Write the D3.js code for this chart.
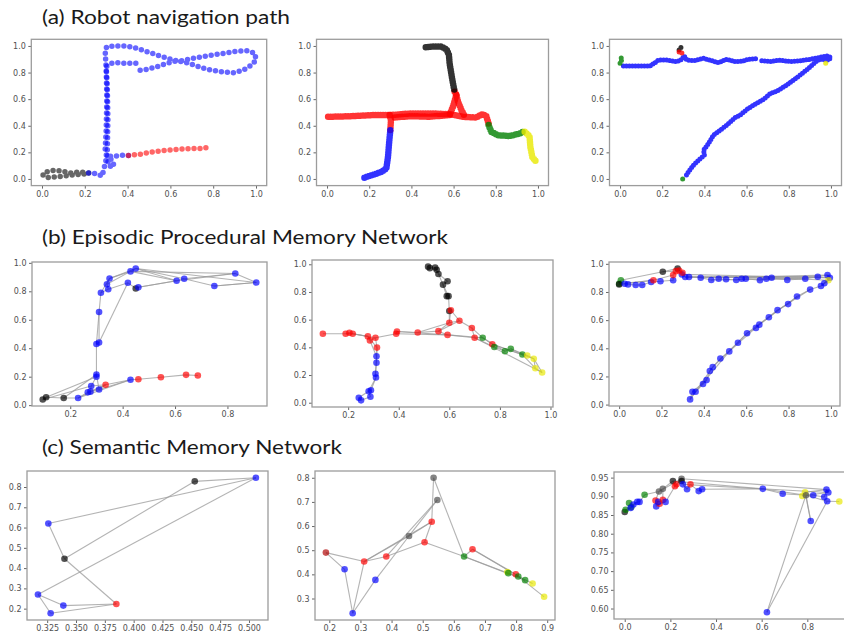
<!DOCTYPE html>
<html>
<head>
<meta charset="utf-8">
<script src="https://cdn.jsdelivr.net/npm/d3@7"></script>
<style>
  body { margin: 0; background: #fff; }
  svg text { font-family: "DejaVu Sans", sans-serif; }
</style>
</head>
<body>
<div id="vis"></div>
<script>
// ---- titles and ticks ----
const titles = ["(a) Robot navigation path", "(b) Episodic Procedural Memory Network", "(c) Semantic Memory Network"];
const ticksUnit = [0, 0.2, 0.4, 0.6, 0.8, 1.0];
const ticksB1x = [0.2, 0.4, 0.6, 0.8];
const ticksB2x = [0.2, 0.4, 0.6, 0.8, 1.0];
const ticksC1x = [0.325, 0.35, 0.375, 0.4, 0.425, 0.45, 0.475, 0.5];
const ticksC1y = [0.2, 0.3, 0.4, 0.5, 0.6, 0.7, 0.8];
const ticksC2x = [0.2, 0.3, 0.4, 0.5, 0.6, 0.7, 0.8, 0.9];
const ticksC2y = [0.3, 0.4, 0.5, 0.6, 0.7, 0.8];
const ticksC3x = [0, 0.2, 0.4, 0.6, 0.8];
const ticksC3y = [0.6, 0.65, 0.7, 0.75, 0.8, 0.85, 0.9, 0.95];

// ---- (a) robot paths, one array per coloured stretch ----
const a1Black = [[0.218,0.045],[0.179,0.053],[0.132,0.045],[0.093,0.06],[0.054,0.065],[0.023,0.053],[0.005,0.04],[0.005,0.028],[0.023,0.01],[0.062,0.015],[0.117,0.025],[0.179,0.035],[0.22,0.042]];
const a1Blue = [[0.218,0.045],[0.233,0.045],[0.264,0.035],[0.28,0.02],[0.288,0.065],[0.295,0.116],[0.303,0.166],[0.295,0.216],[0.3,0.367],[0.303,0.618],[0.3,0.819],[0.295,0.97],[0.303,0.995],[0.35,1.0],[0.397,1.0],[0.443,0.982],[0.49,0.957],[0.552,0.925],[0.614,0.894],[0.645,0.887],[0.708,0.907],[0.77,0.925],[0.832,0.94],[0.894,0.957],[0.956,0.965],[0.995,0.945],[1.0,0.894],[0.98,0.857],[0.941,0.819],[0.894,0.799],[0.832,0.807],[0.77,0.824],[0.723,0.849],[0.677,0.874],[0.63,0.889],[0.583,0.869],[0.537,0.844],[0.49,0.824],[0.44,0.814]];
const a1Blue2 = [[0.404,0.176],[0.381,0.178],[0.334,0.171],[0.31,0.17],[0.334,0.128],[0.334,0.09],[0.31,0.1],[0.305,0.2],[0.308,0.45],[0.305,0.7],[0.3,0.844],[0.319,0.869],[0.35,0.874],[0.397,0.869],[0.446,0.869]];
const a1Red = [[0.404,0.176],[0.459,0.186],[0.521,0.204],[0.583,0.216],[0.645,0.224],[0.708,0.229],[0.754,0.229],[0.767,0.236],[0.75,0.222]];

const a2Black = [[0.468,0.99],[0.502,0.995],[0.542,0.995],[0.566,0.975],[0.578,0.932],[0.581,0.869],[0.589,0.794],[0.597,0.719],[0.605,0.656]];
const a2Red = [[0.605,0.656],[0.613,0.631],[0.621,0.58],[0.637,0.518],[0.652,0.472]];
const a2Red2 = [[0.613,0.631],[0.597,0.543],[0.581,0.48]];
const a2Red3 = [[0.005,0.467],[0.11,0.472],[0.218,0.48],[0.297,0.48],[0.392,0.492],[0.502,0.492],[0.581,0.487],[0.645,0.467],[0.708,0.462],[0.736,0.487],[0.755,0.472],[0.766,0.417],[0.766,0.405]];
const a2Red4 = [[0.297,0.48],[0.303,0.44],[0.3,0.367]];
const a2Red5 = [[0.581,0.48],[0.487,0.468],[0.392,0.472],[0.31,0.46]];
const a2Blue = [[0.3,0.367],[0.294,0.266],[0.289,0.166],[0.281,0.078],[0.257,0.053],[0.226,0.035],[0.194,0.02],[0.174,0.008]];
const a2Green = [[0.766,0.405],[0.779,0.354],[0.81,0.329],[0.866,0.322],[0.913,0.342],[0.929,0.354]];
const a2Yellow = [[0.937,0.354],[0.96,0.322],[0.964,0.241],[0.973,0.166],[0.992,0.128]];

const a3Blue = [[0.016,0.85],[0.079,0.85],[0.142,0.85],[0.166,0.874],[0.182,0.894],[0.222,0.894],[0.269,0.882],[0.293,0.9],[0.304,0.925],[0.316,0.894],[0.348,0.889],[0.396,0.907],[0.435,0.889],[0.467,0.874],[0.506,0.9],[0.546,0.882],[0.585,0.887],[0.609,0.9],[0.649,0.905]];
const a3Blue2 = [[0.672,0.889],[0.712,0.882],[0.759,0.894],[0.807,0.882],[0.854,0.889],[0.902,0.9],[0.949,0.915],[0.981,0.925],[1.0,0.915],[0.989,0.894],[0.949,0.9],[0.934,0.889],[0.894,0.832],[0.854,0.781],[0.823,0.744],[0.791,0.706],[0.744,0.661],[0.712,0.643],[0.68,0.598],[0.633,0.555],[0.601,0.523],[0.57,0.48],[0.546,0.462],[0.506,0.405],[0.475,0.367],[0.443,0.329],[0.419,0.266],[0.396,0.216],[0.4,0.178],[0.38,0.153],[0.348,0.103],[0.324,0.053],[0.309,0.015]];
const a3Green = [[0.0,0.87],[0.01,0.9],[0.005,0.91]];
const a3Green2 = [[0.297,0.0],[0.309,0.005]];
const a3Black = [[0.28,0.97],[0.29,0.99],[0.285,0.98]];
const a3Red = [[0.28,0.955],[0.295,0.945]];
const a3Yellow = [[0.975,0.87],[0.985,0.88]];

// ---- (b) episodic network: nodes [x, y, colour] and chains of node indices ----
const b1Nodes = [[0.095,0.04,"k"],[0.108,0.055,"k"],[0.175,0.05,"k"],[0.23,0.05,"b"],[0.267,0.09,"b"],[0.277,0.095,"b"],[0.28,0.135,"b"],[0.31,0.11,"b"],[0.30,0.2,"b"],[0.30,0.215,"b"],[0.30,0.43,"b"],[0.31,0.44,"b"],[0.31,0.655,"b"],[0.317,0.79,"b"],[0.34,0.85,"b"],[0.345,0.815,"b"],[0.35,0.89,"b"],[0.43,0.94,"b"],[0.45,0.96,"b"],[0.42,0.86,"b"],[0.45,0.82,"k"],[0.46,0.828,"b"],[0.606,0.874,"b"],[0.635,0.888,"b"],[0.75,0.837,"b"],[0.83,0.925,"b"],[0.91,0.862,"b"],[0.335,0.143,"r"],[0.43,0.178,"b"],[0.46,0.182,"r"],[0.546,0.196,"r"],[0.642,0.213,"r"],[0.687,0.208,"r"]];
const b1Links = [[0,1,2,3,4,5,6,8,9,10,11,12,13,15,14,16,17,18,22,23,25,26,24,23,22,21,20,19,15],[9,7,27,28,29,30,31,32],[1,8],[2,9],[0,6],[3,28],[4,27],[19,11],[16,18],[17,25],[18,26],[14,17],[13,16],[21,22],[22,25],[24,26],[10,12],[5,7],[6,27],[3,27],[7,28],[18,23],[17,22]];

const b2Nodes = [[0.516,0.983,"k"],[0.523,0.972,"k"],[0.544,0.976,"k"],[0.55,0.96,"k"],[0.557,0.93,"k"],[0.593,0.877,"k"],[0.575,0.853,"k"],[0.59,0.77,"k"],[0.597,0.77,"k"],[0.60,0.663,"k"],[0.606,0.668,"r"],[0.60,0.578,"r"],[0.557,0.517,"r"],[0.593,0.49,"r"],[0.475,0.507,"r"],[0.393,0.514,"r"],[0.39,0.498,"r"],[0.308,0.469,"r"],[0.286,0.45,"r"],[0.278,0.479,"r"],[0.218,0.498,"r"],[0.205,0.505,"r"],[0.19,0.498,"r"],[0.10,0.498,"r"],[0.314,0.398,"r"],[0.312,0.336,"b"],[0.312,0.289,"b"],[0.308,0.209,"b"],[0.31,0.182,"b"],[0.29,0.09,"b"],[0.281,0.083,"b"],[0.288,0.043,"b"],[0.251,0.017,"b"],[0.242,0.036,"b"],[0.64,0.592,"r"],[0.689,0.54,"r"],[0.70,0.469,"r"],[0.732,0.469,"g"],[0.77,0.422,"r"],[0.778,0.403,"g"],[0.82,0.372,"g"],[0.843,0.389,"g"],[0.889,0.348,"g"],[0.908,0.341,"y"],[0.934,0.318,"y"],[0.967,0.218,"y"],[0.94,0.249,"y"]];
const b2Links = [[0,1,2,3,4,5,6,7,8,9,10,11,12,14,15,16,17,18,19,20,21,22,23],[17,24,25,26,27,28,29,30,31,32,33,30],[11,34,35,36,37,38,39,40,41,42,43,44,45,46,44],[16,13,36],[12,13],[14,11],[12,34],[10,34],[9,11],[13,37],[36,39],[37,40],[38,42],[41,43],[42,46],[19,24],[18,25],[20,19],[22,20],[24,26],[28,30],[6,8],[4,6],[35,37],[15,13],[36,45],[38,44],[17,20],[25,27]];

const b3Nodes = [[0.0,0.859,"g"],[0.008,0.883,"g"],[0.0,0.854,"k"],[0.206,0.944,"k"],[0.276,0.967,"k"],[0.026,0.859,"b"],[0.042,0.854,"b"],[0.078,0.85,"b"],[0.109,0.85,"b"],[0.151,0.871,"b"],[0.195,0.876,"b"],[0.255,0.883,"b"],[0.296,0.925,"b"],[0.312,0.906,"b"],[0.330,0.906,"b"],[0.385,0.901,"b"],[0.435,0.885,"b"],[0.47,0.894,"b"],[0.505,0.89,"b"],[0.553,0.885,"b"],[0.579,0.894,"b"],[0.598,0.894,"b"],[0.665,0.883,"b"],[0.695,0.894,"b"],[0.72,0.901,"b"],[0.794,0.885,"b"],[0.879,0.894,"b"],[0.938,0.908,"b"],[0.984,0.92,"b"],[0.995,0.901,"b"],[0.162,0.883,"r"],[0.255,0.92,"r"],[0.268,0.948,"r"],[0.283,0.953,"r"],[0.299,0.937,"r"],[0.988,0.883,"y"],[0.969,0.862,"b"],[0.953,0.843,"b"],[0.902,0.817,"b"],[0.84,0.768,"b"],[0.798,0.714,"b"],[0.748,0.671,"b"],[0.707,0.62,"b"],[0.662,0.568,"b"],[0.646,0.545,"b"],[0.604,0.507,"b"],[0.561,0.439,"b"],[0.52,0.378,"b"],[0.478,0.327,"b"],[0.442,0.266,"b"],[0.428,0.239,"b"],[0.413,0.174,"b"],[0.396,0.146,"b"],[0.361,0.091,"b"],[0.346,0.091,"b"],[0.335,0.037,"b"]];
const b3Links = [[1,0,2,5,6,7,8,9,10,11,31,32,33,34,12,13,14,15,16,17,18,19,20,21,22,23,24,25,26,27,28,29,35,36,37,38,39,40,41,42,43,44,45,46,47,48,49,50,51,52,53,54,55],[1,3,4,33],[2,30,31],[3,32],[0,30],[14,27],[15,28],[21,26],[24,35],[13,29],[29,36],[35,37],[53,55],[54,51],[4,12],[13,27],[16,26],[12,29],[55,49],[53,47],[49,45],[47,43],[45,41],[43,39],[41,38]];

// ---- (c) semantic network ----
const c1Nodes = [[0.453,0.828,"k"],[0.506,0.846,"b"],[0.326,0.62,"b"],[0.340,0.446,"k"],[0.317,0.27,"b"],[0.339,0.215,"b"],[0.328,0.177,"b"],[0.385,0.223,"r"]];
const c1Links = [[0,1],[1,2],[0,3],[1,4],[2,3],[3,7],[4,5],[4,6],[6,7],[5,7]];

const c2Nodes = [[0.189,0.49,"dr"],[0.249,0.421,"b"],[0.275,0.239,"b"],[0.312,0.453,"r"],[0.348,0.377,"b"],[0.383,0.474,"r"],[0.456,0.559,"gk"],[0.506,0.533,"r"],[0.529,0.618,"r"],[0.535,0.80,"gk"],[0.547,0.708,"gk"],[0.633,0.474,"g"],[0.66,0.504,"r"],[0.772,0.41,"y"],[0.775,0.405,"g"],[0.799,0.40,"r"],[0.807,0.391,"g"],[0.829,0.376,"g"],[0.853,0.362,"y"],[0.89,0.307,"y"]];
const c2Links = [[0,1],[0,3],[1,2],[2,3],[2,4],[4,6],[3,6],[3,8],[3,5],[5,7],[6,10],[6,8],[7,8],[8,9],[9,11],[7,11],[11,12],[12,15],[11,14],[11,17],[15,19],[16,18],[14,16],[5,10],[12,17],[15,16]];

const c3Nodes = [[0.0,0.858,"k"],[0.004,0.864,"g"],[0.019,0.882,"g"],[0.029,0.871,"g"],[0.026,0.869,"b"],[0.038,0.878,"b"],[0.055,0.885,"b"],[0.065,0.885,"b"],[0.087,0.904,"g"],[0.15,0.913,"gk"],[0.167,0.92,"gk"],[0.135,0.889,"r"],[0.138,0.873,"b"],[0.153,0.88,"r"],[0.147,0.885,"b"],[0.167,0.891,"r"],[0.179,0.885,"b"],[0.211,0.941,"k"],[0.22,0.927,"r"],[0.227,0.932,"r"],[0.249,0.947,"gk"],[0.249,0.941,"k"],[0.255,0.932,"b"],[0.273,0.919,"b"],[0.288,0.932,"r"],[0.324,0.914,"b"],[0.339,0.919,"b"],[0.605,0.92,"b"],[0.692,0.907,"b"],[0.79,0.911,"y"],[0.778,0.901,"y"],[0.794,0.903,"gk"],[0.826,0.903,"b"],[0.815,0.834,"b"],[0.874,0.898,"b"],[0.884,0.918,"b"],[0.892,0.91,"b"],[0.887,0.887,"b"],[0.94,0.886,"y"],[0.623,0.59,"b"]];
const c3Links = [[0,1],[1,3],[0,4],[4,5],[5,6],[6,7],[7,8],[8,9],[9,10],[10,17],[9,20],[3,6],[2,5],[11,12],[11,14],[12,13],[13,16],[14,15],[15,10],[16,18],[11,9],[17,18],[18,19],[19,20],[20,21],[21,22],[22,23],[23,24],[24,25],[25,26],[20,35],[17,27],[27,31],[27,28],[28,31],[26,27],[31,32],[32,34],[34,35],[35,36],[36,31],[31,33],[33,29],[39,31],[39,37],[37,31],[37,38],[30,31],[29,35],[22,36]];

const colors = { k: "#000000", b: "#0000ff", r: "#ff0000", g: "#008000", y: "#e8e800", dr: "#b00000", gk: "#4a4a4a" };

// ---- layout ----
const svg = d3.select("#vis").append("svg")
    .attr("width", 844)
    .attr("height", 638);

const titleLayout = [{ y: 24, w: 248 }, { y: 244, w: 406 }, { y: 454, w: 300 }];
svg.selectAll(".title")
    .data(titles)
    .join("text")
    .attr("class", "title")
    .attr("x", 42)
    .attr("y", (d, i) => titleLayout[i].y)
    .attr("textLength", (d, i) => titleLayout[i].w)
    .attr("lengthAdjust", "spacingAndGlyphs")
    .style("font-family", "Lato, 'Open Sans', sans-serif")
    .style("font-size", "19.5px")
    .attr("fill", "#1a1a1a")
    .text(d => d);

const panels = [
    { x: [31.3, 266.7], y: [39.3, 185.6], xd: [-0.05, 1.05], yd: [-0.05, 1.05], xt: ticksUnit, yt: ticksUnit, fx: ".1f", fy: ".1f",
      segs: [[a1Black, "k"], [a1Blue, "b"], [a1Blue2, "b"], [a1Red, "r"]], dot: 5.5, gap: 6, op: 0.6 },
    { x: [316.5, 548.5], y: [39.3, 185.6], xd: [-0.05, 1.05], yd: [-0.05, 1.05], xt: ticksUnit, yt: ticksUnit, fx: ".1f", fy: ".1f",
      segs: [[a2Red3, "r"], [a2Red5, "r"], [a2Red4, "r"], [a2Red2, "r"], [a2Red, "r"], [a2Black, "k"], [a2Blue, "b"], [a2Green, "g"], [a2Yellow, "y"]], dot: 6.5, gap: 2.5, op: 0.8 },
    { x: [609.5, 841.5], y: [39.3, 185.6], xd: [-0.05, 1.05], yd: [-0.05, 1.05], xt: ticksUnit, yt: ticksUnit, fx: ".1f", fy: ".1f",
      segs: [[a3Blue, "b"], [a3Blue2, "b"], [a3Green, "g"], [a3Green2, "g"], [a3Black, "k"], [a3Red, "r"], [a3Yellow, "y"]], dot: 5, gap: 3, op: 0.8 },
    { x: [32, 267], y: [262, 406], xd: [0.054, 0.951], yd: [-0.006, 1.006], xt: ticksB1x, yt: ticksUnit, fx: ".1f", fy: ".1f",
      nodes: b1Nodes, links: b1Links },
    { x: [312, 553], y: [260, 407], xd: [0.057, 1.01], yd: [-0.031, 1.031], xt: ticksB2x, yt: ticksUnit, fx: ".1f", fy: ".1f",
      nodes: b2Nodes, links: b2Links },
    { x: [609, 840], y: [262, 406], xd: [-0.048, 1.043], yd: [-0.01, 1.013], xt: ticksUnit, yt: ticksUnit, fx: ".1f", fy: ".1f",
      nodes: b3Nodes, links: b3Links },
    { x: [27, 268], y: [471, 620], xd: [0.3075, 0.5165], yd: [0.144, 0.879], xt: ticksC1x, yt: ticksC1y, fx: ".3f", fy: ".1f",
      nodes: c1Nodes, links: c1Links },
    { x: [315, 555], y: [471, 620], xd: [0.154, 0.925], yd: [0.211, 0.828], xt: ticksC2x, yt: ticksC2y, fx: ".1f", fy: ".1f",
      nodes: c2Nodes, links: c2Links },
    { x: [614, 850], y: [472, 619], xd: [-0.047, 0.987], yd: [0.572, 0.965], xt: ticksC3x, yt: ticksC3y, fx: ".1f", fy: ".2f",
      nodes: c3Nodes, links: c3Links }
];

panels.forEach(p => {
    const x = d3.scaleLinear().domain(p.xd).range(p.x);
    const y = d3.scaleLinear().domain(p.yd).range([p.y[1], p.y[0]]);
    const g = svg.append("g");

    // axes
    g.append("g")
        .attr("transform", `translate(0,${p.y[1]})`)
        .call(d3.axisBottom(x).tickValues(p.xt).tickFormat(d3.format(p.fx)).tickSize(3).tickPadding(2.5))
        .call(a => a.select(".domain").remove());
    g.append("g")
        .attr("transform", `translate(${p.x[0]},0)`)
        .call(d3.axisLeft(y).tickValues(p.yt).tickFormat(d3.format(p.fy)).tickSize(3).tickPadding(2.5))
        .call(a => a.select(".domain").remove());
    g.selectAll(".tick line").attr("stroke", "#666");
    g.selectAll(".tick text").attr("fill", "#505050").style("font-size", "8px").style("font-family", "'DejaVu Sans', sans-serif");

    if (p.segs) {
        const line = d3.line().x(d => x(d[0])).y(d => y(d[1]));
        g.append("g")
            .selectAll("path")
            .data(p.segs)
            .join("path")
            .attr("d", d => line(d[0]))
            .attr("fill", "none")
            .attr("stroke", d => colors[d[1]])
            .attr("stroke-opacity", p.op)
            .attr("stroke-width", p.dot)
            .attr("stroke-linecap", "round")
            .attr("stroke-linejoin", "round")
            .attr("stroke-dasharray", `0 ${p.gap}`);
    } else {
        const line = d3.line().x(i => x(p.nodes[i][0])).y(i => y(p.nodes[i][1]));
        g.append("g")
            .selectAll("path")
            .data(p.links)
            .join("path")
            .attr("d", line)
            .attr("fill", "none")
            .attr("stroke", "#999")
            .attr("stroke-opacity", 0.75)
            .attr("stroke-width", 1.1);
        g.append("g")
            .selectAll("circle")
            .data(p.nodes)
            .join("circle")
            .attr("cx", d => x(d[0]))
            .attr("cy", d => y(d[1]))
            .attr("r", 3.3)
            .attr("fill", d => colors[d[2]])
            .attr("fill-opacity", 0.68);
    }

    // frame
    g.append("rect")
        .attr("x", p.x[0])
        .attr("y", p.y[0])
        .attr("width", p.x[1] - p.x[0])
        .attr("height", p.y[1] - p.y[0])
        .attr("fill", "none")
        .attr("stroke", "#9c9c9c")
        .attr("stroke-width", 1.3);
});
</script>
</body>
</html>
